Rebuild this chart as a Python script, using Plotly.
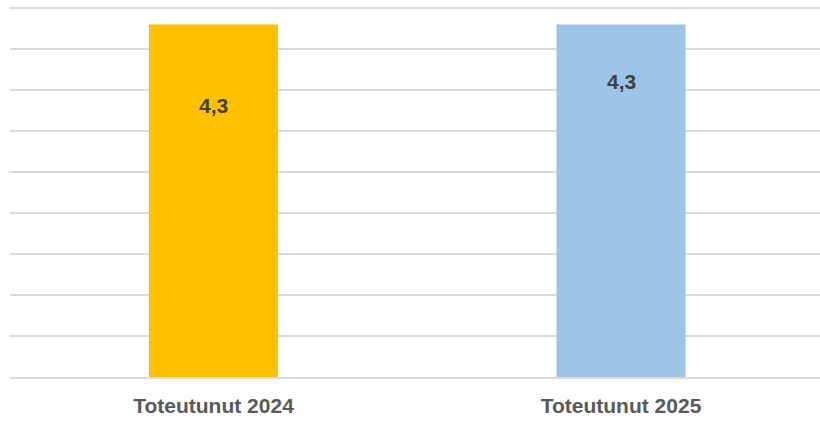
import plotly.graph_objects as go

categories = ["Toteutunut 2024", "Toteutunut 2025"]
values = [4.3, 4.3]
value_labels = ["4,3", "4,3"]
bar_colors = ["#FFC000", "#9DC3E6"]
label_yshift = [-81, -57]  # pixel offsets of labels below bar tops

fig = go.Figure()
fig.add_trace(go.Bar(
    x=categories, y=values, marker_color=bar_colors, width=0.3166,
    marker_line_width=0, hoverinfo="skip",
))
for c, v, t, s in zip(categories, values, value_labels, label_yshift):
    fig.add_annotation(x=c, y=v, text=t, showarrow=False, yshift=s,
                       yanchor="middle",
                       font=dict(family="Liberation Sans, Arial", size=21, color="#404040", weight="bold"))

fig.update_layout(
    width=820, height=426, margin=dict(l=10, r=0, t=6, b=49),
    plot_bgcolor="white", paper_bgcolor="white", showlegend=False,
    font=dict(family="Liberation Sans, Arial"),
)
fig.update_xaxes(range=[-0.4994, 1.4883], showline=True, linecolor="#d9d9d9", linewidth=1.5,
                 ticks="", tickfont=dict(size=21, color="#595959", weight="bold"), ticklabelstandoff=9)
fig.update_yaxes(range=[0, 4.525], dtick=0.5, showticklabels=False, gridcolor="#d9d9d9",
                 gridwidth=1.5, zeroline=False)
fig.write_html("out.html", config={"displayModeBar": False},
               post_script="document.body.style.margin='0';")
